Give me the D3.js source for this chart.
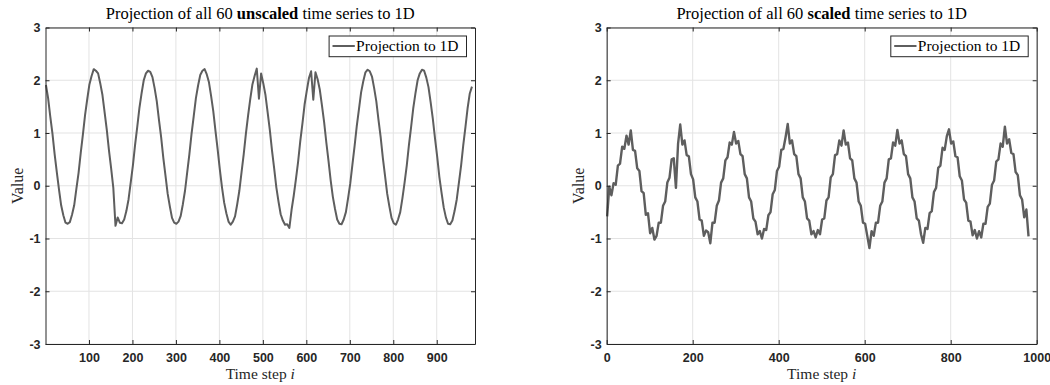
<!DOCTYPE html>
<html>
<head>
<meta charset="utf-8">
<script src="https://cdn.jsdelivr.net/npm/d3@7"></script>
<style>
  body { margin: 0; background: #fff; }
</style>
</head>
<body>
<div id="chart"></div>
<script>
// time steps are sampled every 5 steps, starting at 1
const stepStart = 1
const stepSize = 5

// projection of the unscaled series
const unscaledValues = [
  1.91, 1.66, 1.31, 0.99, 0.60, 0.26, -0.07, -0.37, -0.56, -0.70, -0.72,
  -0.69, -0.55, -0.37, -0.06, 0.24, 0.62, 0.97, 1.34, 1.64, 1.92, 2.08, 2.21,
  2.18, 2.13, 1.94, 1.72, 1.39, 1.06, 0.67, 0.33, -0.04,
  -0.76, -0.60, -0.70, -0.71, -0.64, -0.48, -0.26, 0.06, 0.38, 0.77, 1.11, 1.47, 1.75, 2.00, 2.13, 2.18,
  2.16, 2.06, 1.85, 1.60, 1.25, 0.92, 0.53, 0.19, -0.15, -0.39, -0.61, -0.70, -0.72,
  -0.68, -0.57, -0.35, -0.09, 0.26, 0.60, 0.99, 1.32, 1.66, 1.90, 2.10, 2.18,
  2.21, 2.11, 1.96, 1.70, 1.41, 1.04, 0.69, 0.31, -0.03, -0.32, -0.52, -0.68, -0.74,
  -0.68, -0.58, -0.35, -0.09, 0.26, 0.60, 0.99, 1.33, 1.64, 1.92, 2.08, 2.22,
  1.65, 2.13, 1.94, 1.72, 1.39, 1.06, 0.67, 0.33, -0.03, -0.30, -0.54, -0.66, -0.74,
  -0.73, -0.80, -0.46, -0.19, 0.12, 0.45, 0.84, 1.18, 1.54, 1.80, 2.04, 2.17,
  1.63, 2.15, 2.02, 1.82, 1.52, 1.20, 0.82, 0.47, 0.10, -0.21, -0.44, -0.64, -0.72,
  -0.73, -0.64, -0.50, -0.24, 0.04, 0.40, 0.75, 1.13, 1.45, 1.77, 1.98, 2.15, 2.20,
  2.17, 2.07, 1.85, 1.60, 1.25, 0.92, 0.53, 0.19, -0.15, -0.39, -0.61, -0.71,
  -0.74, -0.64, -0.50, -0.24, 0.06, 0.38, 0.77, 1.11, 1.47, 1.75, 2.00, 2.13, 2.20,
  2.18, 2.05, 1.87, 1.58, 1.27, 0.90, 0.55, 0.17, -0.13, -0.41, -0.60, -0.72,
  -0.73, -0.66, -0.48, -0.26, 0.06, 0.38, 0.77, 1.11, 1.47, 1.75, 1.88
]

// projection of the scaled series
const scaledValues = [
  -0.58, -0.02, -0.18, 0.05, 0.02, 0.38, 0.42, 0.74, 0.70, 0.95, 0.78, 1.05, 0.68, 0.66, 0.33, 0.28, -0.10, -0.14, -0.55, -0.52, -0.90, -0.80, -1.02,
  -0.95, -0.70, -0.70, -0.38, -0.30, 0.06, 0.15, 0.50, 0.52, -0.04, 0.80, 1.16, 0.78, 0.86, 0.58, 0.56, 0.22, 0.12, -0.22, -0.30, -0.64, -0.66, -0.95, -0.85,
  -0.88, -1.09, -0.70, -0.70, -0.38, -0.28, 0.06, 0.14, 0.48, 0.54, 0.82, 0.78, 1.02, 0.80, 0.85, 0.60, 0.56, 0.22, 0.14, -0.22, -0.30, -0.62, -0.68, -0.92, -0.86,
  -1.00, -0.82, -0.84, -0.56, -0.50, -0.16, -0.08, 0.28, 0.36, 0.68, 0.70, 0.92, 1.17, 0.80, 0.86, 0.60, 0.56, 0.22, 0.14, -0.22, -0.30, -0.62, -0.66, -0.92, -0.86, -0.98,
  -0.84, -0.92, -0.64, -0.62, -0.28, -0.22, 0.16, 0.22, 0.58, 0.60, 0.86, 0.76, 1.05, 0.78, 0.82, 0.52, 0.48, 0.14, 0.06, -0.30, -0.38, -0.70, -0.72, -0.95, -1.18,
  -0.86, -0.95, -0.70, -0.70, -0.38, -0.30, 0.06, 0.14, 0.50, 0.52, 0.82, 0.76, 1.06, 0.80, 0.86, 0.60, 0.56, 0.22, 0.14, -0.22, -0.30, -0.62, -0.66, -0.92, -1.08,
  -0.80, -0.82, -0.52, -0.48, -0.12, -0.04, 0.34, 0.38, 0.72, 0.68, 0.94, 1.07, 0.80, 0.84, 0.56, 0.54, 0.18, 0.10, -0.26, -0.32, -0.66, -0.68, -0.94, -0.84, -1.00,
  -0.86, -0.98, -0.72, -0.72, -0.40, -0.34, 0.02, 0.10, 0.46, 0.50, 0.80, 0.74, 1.12, 0.80, 0.88, 0.62, 0.60, 0.26, 0.20, -0.18, -0.26, -0.60, -0.45, -0.96
]

// ticks
const yTicks = [-3, -2, -1, 0, 1, 2, 3]
const unscaledXTicks = [100, 200, 300, 400, 500, 600, 700, 800, 900]
const scaledXTicks = [0, 200, 400, 600, 800, 1000]
const legendLabel = "Projection to 1D"

const svgWidth = 1050
const svgHeight = 385
const plotTop = 27.5
const plotBottom = 344

const svg = d3.select("#chart")
  .append("svg")
  .attr("width", svgWidth)
  .attr("height", svgHeight)
  .style("font-family", "'Liberation Serif', 'Times New Roman', serif")

const timeSteps = unscaledValues.map((d, i) => stepStart + i * stepSize)

function makePanel(values, xDomain, xTicks, boldWord, left, right, lineWidth) {
  const xScale = d3.scaleLinear().domain(xDomain).range([left, right])
  const yScale = d3.scaleLinear().domain([-3, 3]).range([plotBottom, plotTop])
  const g = svg.append("g")

  //grid lines
  g.selectAll(".xgrid")
    .data(xTicks)
    .enter()
    .append("line")
    .attr("x1", d => xScale(d))
    .attr("x2", d => xScale(d))
    .attr("y1", plotTop)
    .attr("y2", plotBottom)
    .attr("stroke", "#e3e3e3")
  g.selectAll(".ygrid")
    .data(yTicks)
    .enter()
    .append("line")
    .attr("x1", left)
    .attr("x2", right)
    .attr("y1", d => yScale(d))
    .attr("y2", d => yScale(d))
    .attr("stroke", "#e3e3e3")

  // the projected series
  const line = d3.line()
    .x((d, i) => xScale(timeSteps[i]))
    .y(d => yScale(d))
  g.append("path")
    .datum(values)
    .attr("d", line)
    .attr("fill", "none")
    .attr("stroke", "#5e5e5e")
    .attr("stroke-width", lineWidth)
    .attr("stroke-linejoin", "round")

  // axes on all four sides, ticks pointing in
  const fmt = d => String(d)
  g.append("g")
    .attr("transform", `translate(0, ${plotBottom})`)
    .call(d3.axisBottom(xScale).tickValues(xTicks).tickSizeInner(-4).tickSizeOuter(0).tickPadding(9).tickFormat(fmt))
  g.append("g")
    .attr("transform", `translate(0, ${plotTop})`)
    .call(d3.axisTop(xScale).tickValues(xTicks).tickSizeInner(-4).tickSizeOuter(0).tickFormat(""))
  g.append("g")
    .attr("transform", `translate(${left}, 0)`)
    .call(d3.axisLeft(yScale).tickValues(yTicks).tickSizeInner(-4).tickSizeOuter(0).tickPadding(5).tickFormat(fmt))
  g.append("g")
    .attr("transform", `translate(${right}, 0)`)
    .call(d3.axisRight(yScale).tickValues(yTicks).tickSizeInner(-4).tickSizeOuter(0).tickFormat(""))

  g.selectAll(".domain, .tick line").attr("stroke", "#262626")
  g.selectAll(".tick text")
    .attr("fill", "#262626")
    .style("font-family", "'Liberation Sans', Arial, sans-serif")
    .style("font-weight", "bold")
    .style("font-size", "12.5px")

  // title
  const title = g.append("text")
    .attr("x", (left + right) / 2)
    .attr("y", 19)
    .attr("text-anchor", "middle")
    .style("font-size", "16.5px")
    .attr("fill", "#000")
  title.append("tspan").text("Projection of all 60 ")
  title.append("tspan").style("font-weight", "bold").text(boldWord)
  title.append("tspan").text(" time series to 1D")

  // axis labels
  const xLabel = g.append("text")
    .attr("x", (left + right) / 2)
    .attr("y", 379)
    .attr("text-anchor", "middle")
    .style("font-size", "15.5px")
    .attr("fill", "#262626")
  xLabel.append("tspan").text("Time step ")
  xLabel.append("tspan").style("font-style", "italic").text("i")
  g.append("text")
    .attr("transform", `translate(${left - 23}, ${(plotTop + plotBottom) / 2}) rotate(-90)`)
    .attr("text-anchor", "middle")
    .style("font-size", "16px")
    .attr("fill", "#262626")
    .text("Value")

  // legend
  const lw = 137.4
  const lx = right - 8.5 - lw
  const ly = plotTop + 8.5
  g.append("rect")
    .attr("x", lx)
    .attr("y", ly)
    .attr("width", lw)
    .attr("height", 20.7)
    .attr("fill", "#fff")
    .attr("stroke", "#262626")
  g.append("line")
    .attr("x1", lx + 3.4)
    .attr("x2", lx + 25.7)
    .attr("y1", ly + 10)
    .attr("y2", ly + 10)
    .attr("stroke", "#5e5e5e")
    .attr("stroke-width", 2)
  g.append("text")
    .attr("x", lx + 27)
    .attr("y", ly + 15)
    .style("font-size", "15.5px")
    .attr("fill", "#000")
    .text(legendLabel)
}

makePanel(unscaledValues, [0, 988], unscaledXTicks, "unscaled", 45.5, 475, 2)
makePanel(scaledValues, [0, 1000], scaledXTicks, "scaled", 606.7, 1036.7, 2.4)
</script>
</body>
</html>
